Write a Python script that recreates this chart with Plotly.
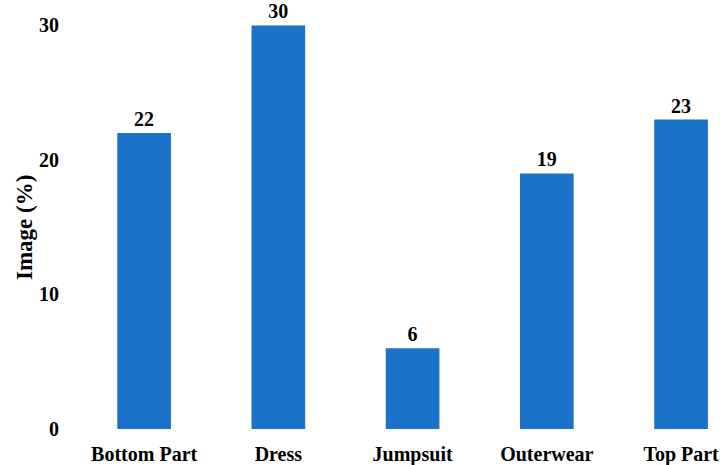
import plotly.graph_objects as go

categories = ["Bottom Part", "Dress", "Jumpsuit", "Outerwear", "Top Part"]
values = [22, 30, 6, 19, 23]
y_ticks = [0, 10, 20, 30]

font_family = "Liberation Serif, Times New Roman, serif"

fig = go.Figure(go.Bar(
    x=categories, y=values,
    marker=dict(color="#1a72c9", line=dict(width=0)),
    width=0.4,
    text=[str(v) for v in values],
    textposition="outside",
    textfont=dict(family=font_family, size=20, color="black", weight="bold"),
    cliponaxis=False,
))

fig.update_layout(
    width=720, height=465,
    margin=dict(l=77, r=0, t=5, b=36),
    plot_bgcolor="white", paper_bgcolor="white",
    font=dict(family=font_family, size=20, color="black", weight="bold"),
    showlegend=False,
    xaxis=dict(
        range=[-0.5, 4.29], showgrid=False, showline=False, zeroline=False,
        ticks="outside", ticklen=7, tickcolor="rgba(0,0,0,0)",
        tickfont=dict(family=font_family, size=20, color="black", weight="bold"),
    ),
    yaxis=dict(
        range=[0, 31.52], tickvals=y_ticks, showgrid=False, showline=False,
        zeroline=False, ticks="outside", ticklen=13, tickcolor="rgba(0,0,0,0)",
        tickfont=dict(family=font_family, size=20, color="black", weight="bold"),
    ),
    annotations=[dict(
        text="Image (%)", x=(24 - 77) / 643, y=(429 - 228) / 424,
        xref="paper", yref="paper", xanchor="center", yanchor="middle",
        showarrow=False, textangle=-90,
        font=dict(family=font_family, size=23, color="black", weight="bold"),
    )],
)

fig.write_html("out.html")
